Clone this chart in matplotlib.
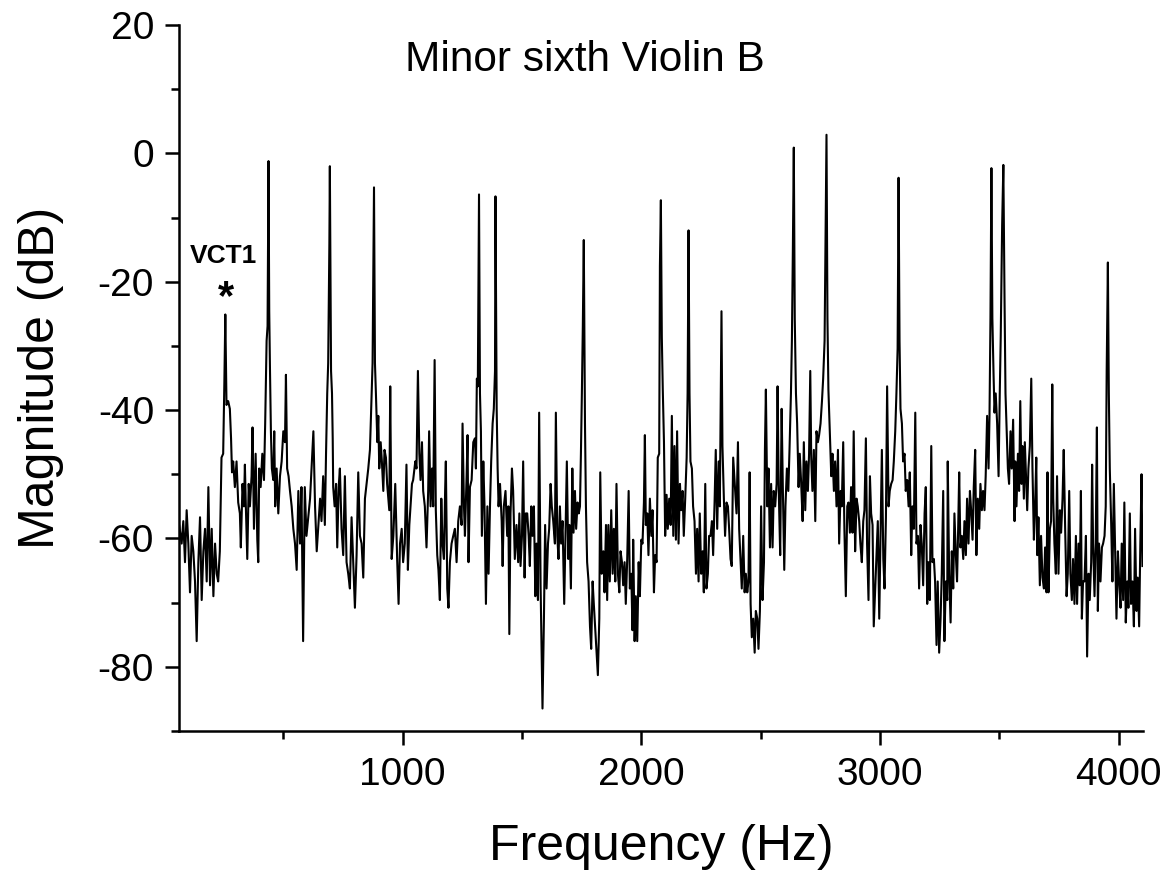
import matplotlib
matplotlib.use("Agg")
import matplotlib.pyplot as plt
from matplotlib.ticker import MultipleLocator

plt.rcParams['font.family'] = ['Liberation Sans', 'DejaVu Sans']
plt.rcParams['axes.unicode_minus'] = False

# spectrum, (frequency Hz, magnitude dB), split in bands
BAND_1 = [
    (64, -58.0), (74, -60.8), (81, -57.3), (88, -63.7), (95, -55.6), (102, -60.8), (109, -68.4),
    (116, -59.6), (123, -62.0), (130, -66.7), (137, -76.0), (144, -63.7), (151, -56.7), (158, -69.6),
    (165, -62.0), (172, -58.5), (179, -66.7), (186, -52.0), (193, -67.3), (200, -58.5), (207, -69.0),
    (214, -60.8), (221, -65.5), (227, -66.7), (234, -62.0), (241, -47.4), (248, -46.8), (253, -35.7),
    (257, -25.1), (262, -39.2), (269, -38.6), (276, -39.8), (281, -44.4), (285, -49.7), (290, -48.0),
    (297, -52.0), (304, -48.0), (311, -54.4), (318, -56.1), (322, -61.4), (329, -51.5), (335, -55.0),
    (339, -48.5), (343, -55.0), (349, -63.2), (355, -51.5), (360, -55.0), (367, -50.3), (371, -42.7),
    (377, -58.5), (384, -46.8), (391, -60.2), (395, -63.7), (399, -49.1), (405, -52.0), (412, -46.8),
    (419, -50.9), (424, -42.1), (430, -29.2), (434, -26.9), (438, -1.2), (441, -24.6), (444, -33.3),
    (448, -43.3), (452, -49.1), (458, -50.9), (462, -43.3), (466, -55.0), (472, -49.1), (479, -56.1),
    (486, -50.3), (493, -48.0), (500, -43.3), (507, -45.0), (511, -34.5), (516, -49.1), (522, -50.3),
    (528, -52.6), (535, -55.0), (542, -58.5), (549, -60.8), (556, -64.9), (563, -52.6), (570, -60.8),
    (576, -52.0), (583, -76.0), (590, -52.0), (597, -59.6),
]
BAND_2 = [
    (612, -53.8), (626, -43.3), (633, -55.0), (640, -62.0), (647, -57.9), (654, -53.8), (660, -57.3),
    (667, -50.3), (674, -57.9), (679, -46.8), (684, -37.4), (688, -32.7), (693, -14.0), (695, -2.0),
    (700, -33.9), (704, -37.4), (707, -44.4), (709, -52.0), (715, -55.0), (721, -51.5), (726, -61.4),
    (732, -52.0), (737, -49.1), (744, -58.5), (751, -62.6), (758, -50.3), (765, -63.7), (772, -65.5),
    (779, -67.8), (786, -56.7), (793, -63.7), (800, -70.8), (807, -62.6), (814, -49.7), (821, -59.6),
    (828, -60.8), (835, -66.1), (842, -53.8), (849, -51.5), (856, -49.1), (863, -46.2), (870, -37.4),
    (874, -32.7), (880, -5.3), (884, -32.7), (888, -37.4), (894, -45.0), (898, -40.9), (902, -49.1),
    (908, -45.0), (913, -48.0), (919, -52.6), (924, -46.2), (930, -47.4), (935, -51.5), (944, -55.6),
    (948, -36.3), (954, -63.2), (961, -59.6), (969, -51.5), (977, -63.2), (983, -70.2), (989, -60.8),
    (996, -58.5), (1002, -63.7), (1009, -60.8), (1016, -48.5), (1022, -64.9), (1028, -57.9), (1033, -55.0),
    (1039, -51.5), (1044, -50.9), (1053, -48.0), (1058, -49.1), (1064, -33.9), (1070, -46.8), (1075, -50.9),
    (1081, -45.0), (1086, -52.6), (1093, -55.0), (1100, -61.4), (1107, -52.6), (1111, -43.3), (1117, -55.0),
    (1123, -49.1), (1128, -55.0), (1134, -32.2), (1139, -55.6), (1145, -62.6), (1150, -64.9), (1156, -69.6),
    (1162, -53.8), (1167, -60.8), (1173, -63.2), (1178, -52.6), (1181, -48.0), (1187, -67.8), (1192, -70.8),
    (1198, -63.7), (1205, -60.8), (1212, -59.6),
]
BAND_3 = [
    (1219, -58.5), (1226, -63.7), (1233, -57.3), (1240, -55.0), (1247, -57.9), (1251, -42.1), (1257, -55.0),
    (1261, -59.6), (1268, -50.3), (1272, -43.9), (1276, -63.7), (1282, -52.0), (1289, -50.9), (1296, -45.0),
    (1303, -44.4), (1307, -49.1), (1311, -35.1), (1315, -36.3), (1320, -6.4), (1324, -37.4), (1328, -43.3),
    (1332, -59.6), (1338, -48.0), (1343, -55.0), (1349, -70.2), (1355, -55.0), (1360, -65.5), (1366, -55.0),
    (1371, -48.0), (1377, -42.1), (1382, -39.8), (1387, -33.9), (1389, -6.7), (1394, -39.8), (1398, -49.1),
    (1402, -55.0), (1408, -51.5), (1415, -57.3), (1419, -64.3), (1424, -55.0), (1431, -52.6), (1438, -59.6),
    (1443, -55.0), (1447, -74.9), (1452, -56.1), (1458, -49.1), (1463, -52.6), (1470, -63.2), (1477, -57.9),
    (1484, -63.7), (1489, -56.1), (1494, -64.3), (1500, -59.6), (1505, -48.0), (1511, -66.1), (1516, -56.1),
    (1522, -56.1), (1528, -59.6), (1533, -64.3), (1539, -55.0), (1544, -59.6), (1550, -55.0), (1556, -69.0),
    (1561, -60.8), (1567, -69.6), (1572, -40.4), (1578, -67.3), (1582, -77.2), (1586, -86.5), (1592, -72.5),
    (1597, -57.9), (1603, -67.8), (1609, -60.8), (1614, -58.5), (1620, -51.5), (1625, -55.0), (1631, -57.3),
    (1638, -60.8), (1642, -40.4), (1648, -59.6), (1653, -63.2), (1659, -55.0), (1664, -60.8), (1670, -57.3),
    (1677, -70.2), (1683, -57.9), (1688, -48.0), (1694, -63.2), (1699, -57.9), (1705, -67.8), (1711, -49.1),
    (1716, -59.1), (1722, -52.6), (1727, -58.5), (1733, -54.4), (1738, -56.1), (1743, -55.0), (1747, -46.8),
    (1751, -37.4), (1755, -26.9), (1759, -13.5), (1764, -42.1), (1768, -55.0), (1773, -63.7), (1779, -66.7),
    (1785, -73.7), (1790, -77.2), (1796, -66.7), (1801, -70.2),
]
BAND_4 = [
    (1818, -81.3), (1824, -72.5), (1828, -49.7), (1834, -65.5), (1841, -62.0), (1846, -68.4), (1852, -57.9),
    (1857, -69.6), (1862, -57.9), (1868, -66.7), (1874, -55.6), (1880, -65.5), (1885, -58.5), (1891, -66.7),
    (1896, -51.5), (1902, -65.5), (1908, -68.4), (1913, -62.0), (1919, -63.7), (1924, -67.3), (1930, -63.7),
    (1935, -70.2), (1941, -63.2), (1947, -52.6), (1952, -67.8), (1958, -65.5), (1963, -74.3), (1966, -60.2),
    (1972, -76.0), (1977, -69.0), (1983, -76.0), (1989, -63.7), (1994, -69.0), (2000, -60.2), (2005, -60.8),
    (2011, -54.4), (2015, -43.9), (2019, -57.9), (2025, -56.1), (2030, -62.6), (2036, -53.8), (2042, -59.6),
    (2047, -55.6), (2053, -68.4), (2058, -62.6), (2064, -63.7), (2069, -47.4), (2075, -46.8), (2078, -17.5),
    (2082, -7.3), (2086, -28.7), (2090, -36.8), (2095, -45.0), (2100, -59.6), (2106, -53.2), (2111, -58.5),
    (2117, -53.8), (2123, -57.9), (2128, -40.9), (2134, -59.6), (2139, -45.6), (2145, -60.2), (2150, -43.3),
    (2156, -60.8), (2162, -51.5), (2167, -55.6), (2173, -52.6), (2178, -59.6), (2184, -53.8), (2190, -47.4),
    (2194, -37.4), (2198, -12.0), (2202, -37.4), (2206, -48.0), (2212, -49.1), (2217, -55.0), (2223, -57.3),
    (2229, -65.5), (2234, -58.5), (2240, -66.7), (2245, -56.1), (2251, -65.5), (2257, -62.0), (2262, -68.4),
    (2268, -51.5), (2273, -67.8), (2279, -65.5), (2284, -59.6), (2290, -59.6), (2296, -57.3), (2301, -62.6),
    (2307, -54.4), (2312, -46.2), (2318, -58.5), (2324, -48.0), (2329, -55.0), (2333, -37.4), (2336, -24.6),
    (2340, -45.6), (2346, -53.8), (2351, -59.6), (2357, -54.4), (2363, -55.0), (2368, -58.5), (2374, -63.2),
    (2379, -64.3), (2385, -47.4),
]
BAND_5 = [
    (2399, -56.1), (2405, -45.0), (2410, -58.5), (2416, -63.7), (2421, -67.8), (2427, -59.6), (2433, -68.4),
    (2438, -65.5), (2444, -68.4), (2449, -66.7), (2454, -49.7), (2458, -70.2), (2463, -75.4), (2469, -72.5),
    (2475, -77.8), (2480, -71.3), (2486, -72.5), (2491, -77.2), (2497, -71.3), (2502, -55.0), (2508, -69.6),
    (2514, -63.7), (2518, -46.2), (2522, -36.8), (2528, -55.0), (2533, -49.1), (2539, -61.4), (2544, -51.5),
    (2550, -61.4), (2555, -52.6), (2561, -55.0), (2567, -51.5), (2571, -36.3), (2576, -52.6), (2582, -62.6),
    (2588, -39.8), (2593, -52.0), (2599, -64.9), (2604, -55.0), (2610, -49.1), (2616, -52.6), (2621, -46.2),
    (2627, -37.4), (2631, -29.2), (2635, -15.2), (2639, 0.9), (2643, -25.7), (2648, -37.4), (2653, -42.1),
    (2659, -52.0), (2664, -46.8), (2670, -51.5), (2676, -57.3), (2681, -45.0), (2687, -55.6), (2692, -48.0),
    (2698, -52.6), (2703, -46.8), (2708, -33.9), (2712, -47.4), (2717, -52.6), (2723, -46.2), (2729, -57.3),
    (2734, -43.3), (2740, -45.0), (2745, -43.9), (2751, -42.1), (2757, -38.6), (2762, -35.1), (2768, -29.2),
    (2772, -14.0), (2776, 2.9), (2780, -25.7), (2784, -36.8), (2790, -43.3), (2796, -50.3), (2801, -46.8),
    (2807, -52.6), (2812, -48.0), (2818, -55.0), (2824, -46.2), (2829, -60.8), (2835, -52.6), (2840, -55.0),
    (2846, -45.0), (2851, -58.5), (2857, -69.0), (2863, -55.0), (2868, -54.4), (2874, -59.1), (2879, -52.0),
    (2885, -59.1), (2890, -43.3), (2896, -62.0), (2902, -53.8), (2907, -55.0), (2913, -57.3), (2918, -60.8),
    (2924, -63.7), (2930, -57.3), (2935, -55.6), (2941, -44.4), (2946, -60.8), (2952, -69.6), (2958, -50.3),
    (2963, -56.1), (2969, -57.9), (2974, -73.7),
]
BAND_6 = [
    (2991, -57.3), (2997, -72.5), (3002, -60.8), (3008, -46.2), (3014, -63.2), (3019, -67.8), (3025, -56.7),
    (3030, -36.3), (3036, -55.0), (3041, -52.6), (3047, -51.5), (3053, -50.9), (3058, -48.0), (3064, -43.3),
    (3069, -37.4), (3074, -30.4), (3078, -3.8), (3082, -29.2), (3086, -39.8), (3092, -42.1), (3097, -48.0),
    (3103, -46.8), (3108, -52.6), (3114, -50.9), (3120, -55.0), (3125, -49.7), (3131, -62.6), (3136, -55.0),
    (3142, -58.5), (3148, -40.4), (3153, -60.8), (3159, -59.6), (3164, -67.8), (3170, -57.9), (3175, -60.8),
    (3181, -67.3), (3187, -56.1), (3192, -52.0), (3198, -70.2), (3203, -63.7), (3209, -69.6), (3215, -45.6),
    (3220, -63.7), (3226, -63.2), (3231, -66.7), (3237, -76.6), (3242, -66.7), (3248, -77.8), (3254, -72.5),
    (3259, -65.5), (3265, -52.6), (3270, -76.0), (3276, -66.7), (3282, -69.6), (3284, -48.0), (3290, -65.5),
    (3296, -73.1), (3301, -62.0), (3307, -67.8), (3312, -56.1), (3318, -62.6), (3323, -66.7), (3328, -57.9),
    (3332, -49.7), (3337, -61.4), (3343, -59.6), (3349, -63.2), (3354, -57.3), (3360, -62.6), (3365, -53.8),
    (3371, -60.8), (3377, -52.6), (3382, -55.6), (3388, -60.2), (3393, -52.0), (3399, -46.2), (3404, -62.6),
    (3410, -53.8), (3416, -58.5), (3421, -51.5), (3427, -55.6), (3432, -52.6), (3438, -55.6), (3443, -50.3),
    (3449, -40.9), (3455, -49.1), (3459, -40.9), (3463, -25.7), (3467, -2.3), (3471, -25.7), (3476, -34.5),
    (3480, -40.4), (3485, -37.4), (3491, -42.1), (3497, -50.3), (3502, -37.4), (3506, -28.7), (3512, -11.1),
    (3517, -1.8), (3522, -22.8), (3526, -37.4), (3530, -42.1), (3536, -49.1), (3541, -51.5), (3547, -43.3),
    (3552, -49.1), (3558, -41.5), (3564, -57.3),
]
BAND_7 = [
    (3567, -48.0), (3572, -55.0), (3578, -46.8), (3583, -52.6), (3588, -38.6), (3593, -51.5), (3597, -45.6),
    (3603, -53.8), (3607, -45.0), (3611, -49.1), (3617, -55.6), (3622, -49.1), (3628, -45.6), (3634, -35.1),
    (3639, -49.1), (3645, -60.2), (3650, -55.0), (3655, -47.4), (3659, -62.6), (3664, -56.7), (3670, -67.3),
    (3675, -59.6), (3681, -66.1), (3687, -67.8), (3692, -61.4), (3698, -68.4), (3702, -49.7), (3706, -68.4),
    (3712, -58.5), (3717, -57.3), (3722, -36.0), (3726, -53.8), (3731, -60.8), (3737, -65.5), (3742, -50.3),
    (3748, -65.5), (3754, -55.6), (3759, -59.1), (3765, -53.8), (3770, -46.2), (3776, -58.5), (3782, -69.0),
    (3787, -65.5), (3793, -52.6), (3798, -65.5), (3804, -69.6), (3809, -63.2), (3815, -70.2), (3821, -59.6),
    (3826, -70.2), (3832, -60.8), (3837, -67.3), (3842, -52.6), (3846, -72.5), (3851, -66.7), (3857, -66.7),
    (3863, -59.6), (3868, -78.4), (3874, -65.5), (3879, -69.6), (3885, -63.7), (3889, -48.5), (3893, -60.8),
    (3899, -69.0), (3904, -60.8), (3909, -42.7), (3913, -71.3), (3918, -60.8), (3924, -66.7), (3930, -61.4),
    (3935, -60.8), (3941, -59.6), (3946, -55.0), (3950, -33.9), (3955, -17.0), (3959, -37.4), (3963, -49.1),
    (3969, -57.9), (3974, -66.7), (3980, -51.5), (3985, -60.8), (3991, -72.5), (3997, -62.0), (4002, -66.7),
    (4008, -70.8), (4013, -60.8), (4019, -69.6), (4024, -54.4), (4030, -73.1), (4036, -66.7), (4041, -70.8),
    (4047, -56.1), (4052, -70.2), (4058, -66.7), (4064, -73.7), (4069, -58.5), (4075, -71.3), (4080, -66.1),
    (4086, -73.7), (4091, -60.8), (4096, -50.0), (4100, -64.3),
]

TITLE = "Minor sixth Violin B"
MARKER_LABEL = "VCT1"
MARKER_FREQ = 257  # VCT1 peak

points = BAND_1 + BAND_2 + BAND_3 + BAND_4 + BAND_5 + BAND_6 + BAND_7
freq = [p[0] for p in points]
mag = [p[1] for p in points]

fig = plt.figure(figsize=(11.67, 8.75), dpi=100)
ax = fig.add_axes([0.1534, 0.1646, 0.826, 0.8068])
ax.plot(freq, mag, color='black', lw=1.5)

ax.set_xlim(63, 4102)
ax.set_ylim(-90, 20)
ax.xaxis.set_major_locator(MultipleLocator(1000))
ax.xaxis.set_minor_locator(MultipleLocator(500))
ax.yaxis.set_major_locator(MultipleLocator(20))
ax.yaxis.set_minor_locator(MultipleLocator(10))

for side in ['top', 'right']:
    ax.spines[side].set_visible(False)
for side in ['left', 'bottom']:
    ax.spines[side].set_linewidth(1.8)

ax.tick_params(axis='y', which='major', direction='out', length=10, width=1.8, labelsize=28, pad=8)
ax.tick_params(axis='x', which='major', direction='out', length=10, width=1.8, labelsize=28, pad=9)
ax.tick_params(which='minor', direction='out', length=5.5, width=1.8)

ax.set_xlabel("Frequency (Hz)", fontsize=36, labelpad=22)
ax.set_ylabel("Magnitude (dB)", fontsize=36, labelpad=24)

ax.text(1764, 14.5, TITLE, fontsize=30.5, ha='center', va='center')
ax.text(MARKER_FREQ - 6, -16, MARKER_LABEL, fontsize=19, fontweight='bold', ha='center', va='center')
ax.text(MARKER_FREQ + 3, -22.5, "*", fontsize=30, fontweight='bold', ha='center', va='center')

fig.savefig("out.png", dpi=100)
